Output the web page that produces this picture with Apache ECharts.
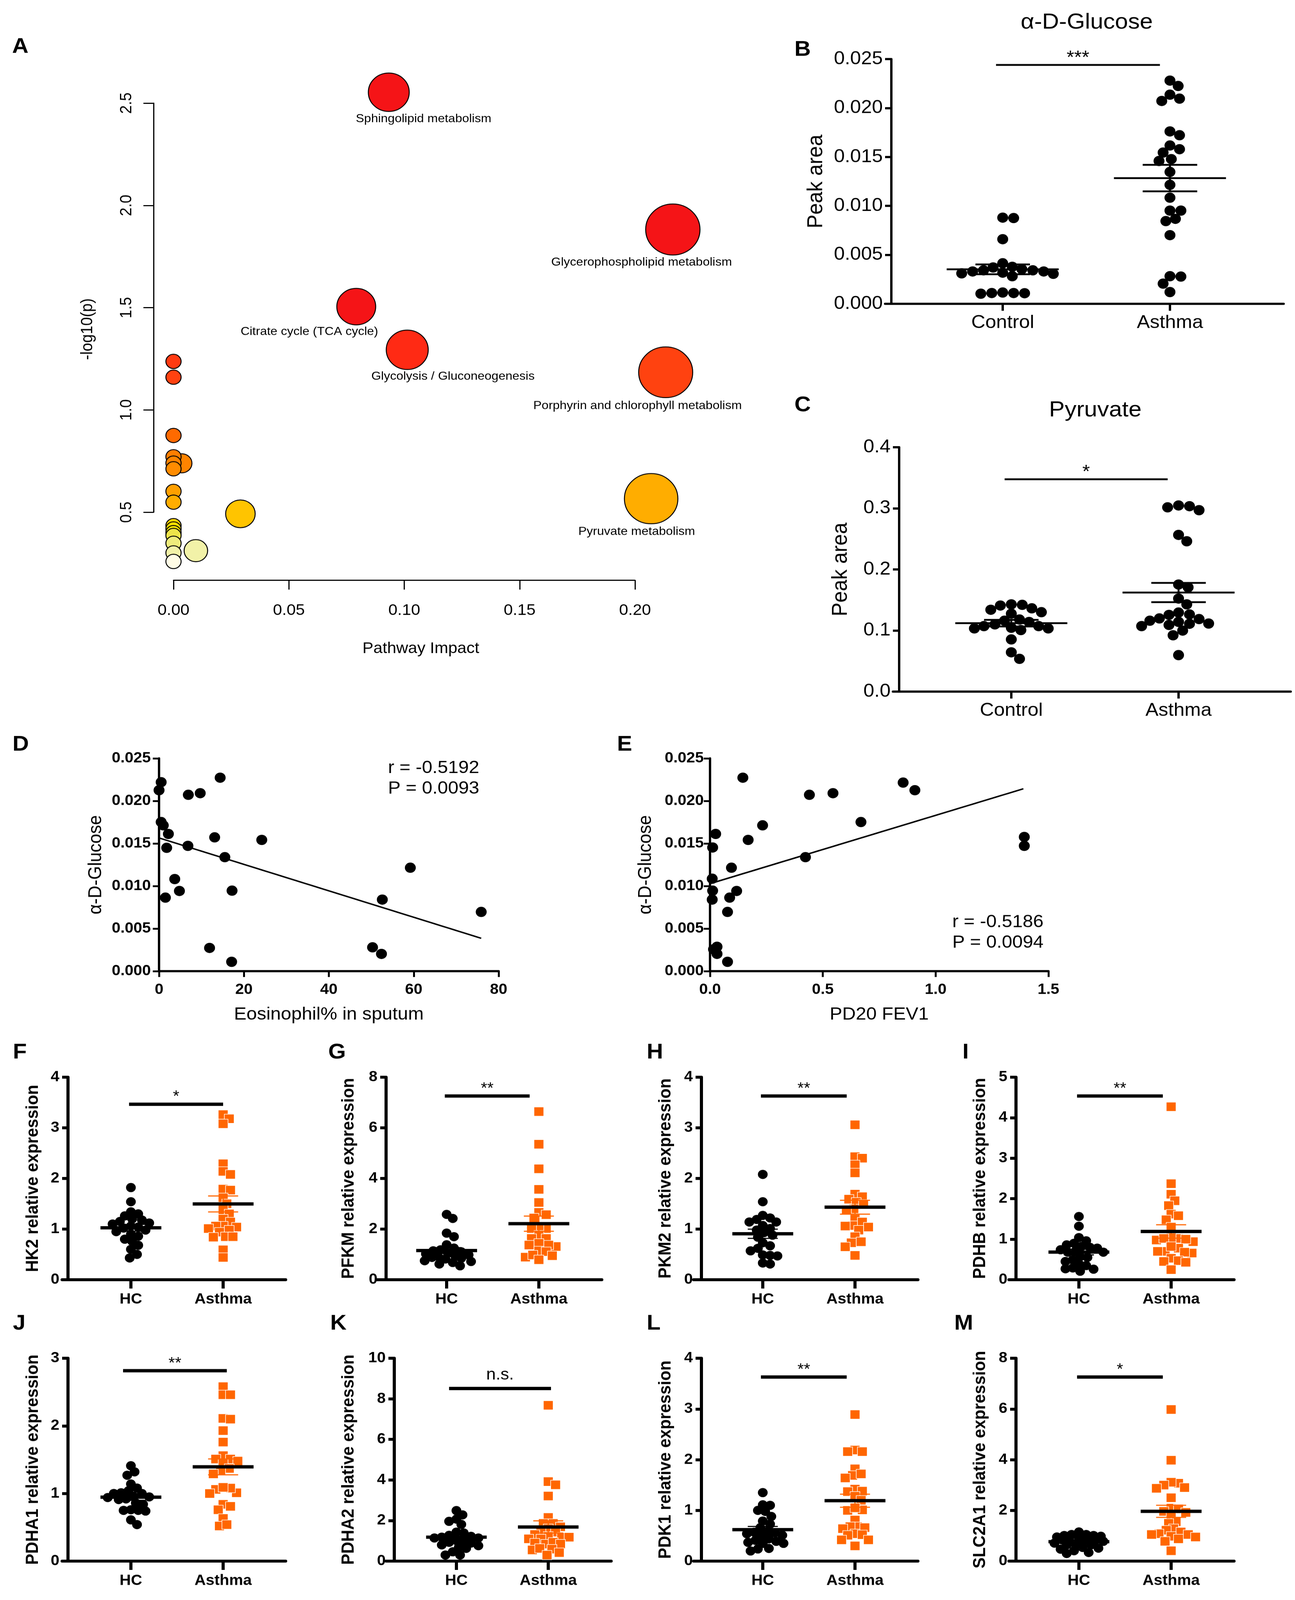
<!DOCTYPE html>
<html>
<head>
<meta charset="utf-8">
<script src="https://cdn.jsdelivr.net/npm/echarts@6/dist/echarts.min.js"></script>
<style>
  html, body { margin: 0; padding: 0; background: #fff; overflow: hidden; }
  #main { width: 3314px; height: 4361px; transform-origin: 0 0; }
</style>
</head>
<body>
<div id="main"></div>
<script>
// ---------- data ----------
// A: pathway analysis (impact vs -log10 p)
const pathwayNames = ['Sphingolipid metabolism', 'Glycerophospholipid metabolism', 'Citrate cycle (TCA cycle)',
  'Glycolysis / Gluconeogenesis', 'Porphyrin and chlorophyll metabolism', 'Pyruvate metabolism',
  '', '', '', '', '', '', '', '', '', '', '', '', '', '', '', '', '', ''];
const pathwayImpact = [0.0933, 0.2164, 0.0792, 0.1013, 0.2133, 0.2070, 0.0290, 0.0097, 0.0036,
  0, 0, 0, 0, 0, 0, 0, 0, 0, 0, 0, 0, 0, 0, 0];
const pathwayLogP = [2.553, 1.882, 1.505, 1.294, 1.184, 0.566, 0.492, 0.312, 0.739,
  1.237, 1.160, 0.875, 0.771, 0.740, 0.712, 0.602, 0.549, 0.434, 0.418, 0.400, 0.386, 0.348, 0.301, 0.259];
const pathwayXTicks = [0, 0.2, 0.05];
const pathwayYTicks = [0.5, 2.5, 0.5];

// B, C: metabolite peak areas
const groupNames = ['Control', 'Asthma'];
const glucoseControl = [0.0088, 0.00876, 0.0066, 0.00414, 0.00378, 0.00342, 0.0033, 0.00318, 0.00306, 0.00282,
  0.00311, 0.0033, 0.00342, 0.00354, 0.00371, 0.00115, 0.0011, 0.00103, 0.00108, 0.0011];
const glucoseAsthma = [0.0228, 0.02225, 0.02136, 0.02072, 0.02096, 0.01761, 0.01722, 0.01617, 0.01545, 0.01579,
  0.01459, 0.01478, 0.01347, 0.01215, 0.01084, 0.00952, 0.00952, 0.00868, 0.00845, 0.00701, 0.00282, 0.00278,
  0.00206, 0.0012];
const pyruvateControl = [0.1428, 0.1409, 0.134, 0.1363, 0.142, 0.1275, 0.130, 0.116, 0.114, 0.118, 0.1072, 0.1072,
  0.1034, 0.1007, 0.110, 0.1034, 0.1045, 0.0854, 0.0643, 0.0536];
const pyruvateAsthma = [0.3035, 0.297, 0.3016, 0.3047, 0.2565, 0.2461, 0.1707, 0.1753, 0.1523, 0.1428, 0.1294,
  0.1256, 0.1263, 0.116, 0.1187, 0.1198, 0.1141, 0.1114, 0.1091, 0.1072, 0.111, 0.0999, 0.0922, 0.0597];

// D, E: correlations
const eosinophilPct = [0.5, 0, 14.4, 6.9, 9.7, 0.5, 1.0, 2.2, 13.1, 24.2, 6.8, 1.8, 15.5, 59.2, 3.7, 4.8, 17.2,
  1.5, 52.6, 75.9, 11.9, 50.3, 52.4, 17.1];
const eosGlucose = [0.0222, 0.02126, 0.02273, 0.02072, 0.02091, 0.01752, 0.01713, 0.01612, 0.01572, 0.01542,
  0.01472, 0.01449, 0.01339, 0.01215, 0.01082, 0.00942, 0.00946, 0.00864, 0.00841, 0.00696, 0.00273, 0.0028,
  0.00203, 0.0011];
const eosFit = [[0, 0.01565], [75.9, 0.00386]];
const pd20Fev1 = [0.1455, 0.856, 0.908, 0.4405, 0.545, 0.669, 0.233, 0.025, 0.169, 1.393, 1.393, 0.0116, 0.423,
  0.095, 0.0097, 0.0116, 0.118, 0.087, 0.0097, 0.0776, 0.031, 0.0155, 0.031, 0.0776];
const pdGlucose = [0.02273, 0.02215, 0.02126, 0.02072, 0.02091, 0.01752, 0.01713, 0.01612, 0.01542, 0.01577,
  0.01472, 0.01453, 0.01339, 0.01215, 0.01086, 0.00946, 0.00942, 0.00864, 0.00841, 0.00696, 0.00287, 0.00257,
  0.00203, 0.0011];
const pdFit = [[0, 0.01028], [1.389, 0.02143]];

// F-M: relative expression, HC vs Asthma
const exprGroups = ['HC', 'Asthma'];
const hk2HC = [1.82, 1.54, 1.34, 1.30, 1.26, 1.20, 1.18, 1.15, 1.12, 1.10, 1.06, 1.04, 1.02, 0.98, 0.95, 0.90,
  0.86, 0.80, 0.76, 0.68, 0.60, 0.50, 0.43];
const hk2Asthma = [3.26, 3.18, 3.08, 2.29, 2.14, 2.08, 1.79, 1.77, 1.62, 1.50, 1.38, 1.30, 1.20, 1.14, 1.06, 1.06,
  1.04, 1.01, 0.98, 0.94, 0.85, 0.85, 0.84, 0.59, 0.44];
const pfkmHC = [2.58, 2.42, 1.84, 1.70, 1.38, 1.25, 1.18, 1.14, 1.10, 1.05, 1.02, 0.98, 0.95, 0.92, 0.88, 0.85,
  0.82, 0.75, 0.72, 0.68, 0.62, 0.55];
const pfkmAsthma = [6.64, 5.35, 4.38, 3.57, 3.05, 2.66, 2.57, 2.44, 2.02, 2.08, 2.02, 1.76, 1.63, 1.63, 1.31, 1.37,
  1.44, 1.37, 1.14, 1.11, 0.89, 0.95, 0.98, 0.79];
const pkm2HC = [2.08, 1.54, 1.27, 1.22, 1.19, 1.14, 1.14, 1.07, 1.01, 0.98, 0.93, 0.88, 0.84, 0.73, 0.67, 0.62,
  0.57, 0.49, 0.48, 0.47, 0.33, 0.31];
const pkm2Asthma = [3.06, 2.43, 2.40, 2.27, 2.11, 1.69, 1.64, 1.59, 1.53, 1.49, 1.40, 1.38, 1.20, 1.14, 1.07, 1.06,
  1.04, 0.98, 0.85, 0.75, 0.73, 0.65, 0.48];
const pdhbHC = [1.56, 1.32, 1.04, 0.96, 0.90, 0.86, 0.82, 0.80, 0.78, 0.74, 0.70, 0.68, 0.68, 0.57, 0.55, 0.49,
  0.45, 0.39, 0.35, 0.29, 0.27, 0.26, 0.21];
const pdhbAsthma = [4.27, 2.37, 2.11, 1.95, 1.83, 1.62, 1.58, 1.48, 1.30, 0.94, 1.02, 1.04, 0.98, 1.02, 1.00, 0.70,
  0.78, 0.66, 0.82, 0.68, 0.70, 0.53, 0.47, 0.43, 0.45, 0.25];
const pdha1HC = [1.41, 1.32, 1.27, 1.14, 1.08, 1.04, 1.01, 1.00, 1.00, 0.96, 0.95, 0.94, 0.92, 0.91, 0.86, 0.84,
  0.76, 0.75, 0.75, 0.74, 0.61, 0.54];
const pdha1Asthma = [2.58, 2.46, 2.46, 2.11, 2.10, 1.93, 1.76, 1.56, 1.51, 1.51, 1.48, 1.44, 1.37, 1.34, 1.29, 1.01,
  1.06, 1.08, 1.09, 1.00, 0.84, 0.81, 0.76, 0.63, 0.52, 0.54];
const pdha2HC = [2.49, 2.28, 2.07, 1.96, 1.81, 1.43, 1.39, 1.14, 1.27, 1.22, 1.18, 1.14, 0.97, 1.01, 0.93, 0.89,
  0.68, 0.76, 0.80, 0.63, 0.46, 0.30, 0.30];
const pdha2Asthma = [7.68, 3.92, 3.76, 3.21, 2.15, 1.86, 1.86, 1.69, 1.60, 1.52, 1.43, 1.31, 1.18, 1.22, 1.10, 1.18,
  1.10, 0.89, 0.84, 0.93, 0.84, 0.59, 0.55, 0.63, 0.42, 0.30];
const pdk1HC = [1.35, 1.11, 1.10, 1.00, 0.98, 0.88, 0.79, 0.73, 0.66, 0.59, 0.57, 0.56, 0.51, 0.54, 0.51, 0.44,
  0.41, 0.39, 0.37, 0.35, 0.35, 0.24, 0.25, 0.20];
const pdk1Asthma = [2.89, 2.19, 2.16, 2.16, 1.82, 1.69, 1.72, 1.64, 1.42, 1.37, 1.38, 1.28, 1.20, 1.01, 1.00, 1.05,
  0.81, 0.68, 0.68, 0.66, 0.64, 0.54, 0.52, 0.51, 0.42, 0.42, 0.30];
const slc2a1HC = [1.05, 1.01, 1.15, 1.05, 1.01, 0.88, 0.84, 0.84, 0.91, 0.81, 0.68, 0.64, 0.71, 0.64, 0.51, 0.47,
  0.54, 0.41, 0.34, 0.30, 0.95, 0.98, 0.78, 0.88];
const slc2a1Asthma = [5.98, 3.98, 3.07, 3.11, 3.00, 2.87, 2.90, 2.50, 2.09, 2.06, 1.96, 1.92, 1.76, 1.55, 1.49,
  1.28, 1.22, 1.15, 1.05, 1.08, 1.05, 0.95, 0.98, 0.78, 0.88, 0.41];

// ---------- helpers ----------
const fontFamily = '"Liberation Sans", Arial, Helvetica, sans-serif';
const ORANGE = '#FF6600';

function mean(a) { return a.reduce((s, v) => s + v, 0) / a.length; }
function sem(a) {
  const m = mean(a);
  const v = a.reduce((s, x) => s + (x - m) * (x - m), 0) / (a.length - 1);
  return Math.sqrt(v / a.length);
}

// greedy beeswarm: horizontal offsets (px), kept inside +/-maxHalf;
// when nothing fits there, take the spot with the least overlap
function swarmOffsets(values, diam, pxPerUnit, overlap, maxHalf) {
  const order = values.map((v, i) => i).sort((a, b) => values[b] - values[a]);
  const placed = [];
  const out = new Array(values.length);
  const minD = diam * overlap, step = diam / 8;
  order.forEach(i => {
    const y = values[i] * pxPerUnit;
    let x = null, bestX = 0, bestD = -1;
    for (let k = 0; k < 400; k++) {
      const c = (k % 2 === 1 ? 1 : -1) * Math.ceil(k / 2) * step;
      if (Math.abs(c) > maxHalf) break;
      let dMin = Infinity;
      placed.forEach(p => { dMin = Math.min(dMin, Math.hypot(p.x - c, p.y - y)); });
      if (dMin >= minD) { x = c; break; }
      if (dMin > bestD + 0.5) { bestD = dMin; bestX = c; }
    }
    if (x === null) x = bestX;
    placed.push({ x, y });
    out[i] = x;
  });
  return out;
}

const grids = [], xAxes = [], yAxes = [], series = [], graphics = [];

function addText(text, x, y, o) {
  o = o || {};
  graphics.push({
    type: 'text', x, y, rotation: o.rot || 0, z: 20,
    style: {
      text, fill: '#000', fontFamily, fontSize: o.size || 40, fontWeight: o.weight || 'normal',
      align: o.align || 'center', verticalAlign: o.valign || 'middle',
      textAlign: o.align || 'center', textVerticalAlign: o.valign || 'middle'
    }
  });
}

function addGrid(g) {
  grids.push(Object.assign({ outerBoundsMode: 'none', containLabel: false }, g));
  return grids.length - 1;
}

// ---------- panel A ----------
const pathwayLabelOffset = {
  'Sphingolipid metabolism': [89, 73],
  'Glycerophospholipid metabolism': [-80, 90],
  'Citrate cycle (TCA cycle)': [-120, 68],
  'Glycolysis / Gluconeogenesis': [117, 73],
  'Porphyrin and chlorophyll metabolism': [-72, 92],
  'Pyruvate metabolism': [-37, 90]
};
(function panelA() {
  const gi = addGrid({ left: 444, top: 281, width: 1181, height: 1115 });
  const axisCommon = {
    gridIndex: gi, type: 'value', splitLine: { show: false },
    axisLine: { onZero: false, lineStyle: { color: '#000', width: 3 } },
    axisTick: { length: 26, lineStyle: { color: '#000', width: 3 } }
  };
  xAxes.push(Object.assign({}, axisCommon, {
    min: pathwayXTicks[0], max: pathwayXTicks[1], interval: pathwayXTicks[2], offset: 185,
    axisLabel: { margin: 62, fontSize: 42, color: '#000', fontFamily, formatter: v => v.toFixed(2) }
  }));
  yAxes.push(Object.assign({}, axisCommon, {
    min: pathwayYTicks[0], max: pathwayYTicks[1], interval: pathwayYTicks[2], offset: 51,
    axisLabel: { margin: 48, fontSize: 42, color: '#000', fontFamily, rotate: 90, formatter: v => v.toFixed(1) }
  }));
  series.push({
    type: 'scatter', xAxisIndex: gi, yAxisIndex: gi, clip: false, z: 3,
    symbolSize: v => 39 + 215 * Math.sqrt(v[0]),
    itemStyle: { borderColor: '#000', borderWidth: 2.5, opacity: 1 },
    label: { show: true, position: 'inside', formatter: '{b}', fontSize: 32, color: '#000', fontFamily },
    emphasis: { disabled: true },
    data: pathwayImpact.map((x, i) => {
      const name = pathwayNames[i];
      return {
        name, value: [x, pathwayLogP[i]],
        label: name ? { show: true, offset: pathwayLabelOffset[name] } : { show: false }
      };
    })
  });
  addText('Pathway Impact', 1077, 1768, { size: 42 });
  addText('-log10(p)', 224, 897, { size: 42, rot: Math.PI / 2 });
})();

// ---------- dot plots with mean +/- SEM ----------
const prismStyle = {
  axisW: 6, xTick: 19, yTick: 16, xLabelMargin: 27, yLabelMargin: 22, catSize: 50, tickSize: 50,
  weight: 'normal', nameSize: 56, nameWeight: 'normal', markerSize: 28, squares: false,
  overlap: 0.9, maxHalf: 130,
  meanW: 5, semW: 5, meanHalf: 0.335, semHalf: 0.163, sigW: 5, sigSize: 50, sigDy: 18, semColors: ['#000', '#000']
};
const exprStyle = {
  axisW: 8, xTick: 24, yTick: 15, xLabelMargin: 34, yLabelMargin: 22, catSize: 40, tickSize: 40,
  weight: 'bold', nameSize: 45, nameWeight: 'bold', markerSize: 25, squares: true,
  overlap: 0.75, maxHalf: 64,
  meanW: 9, semW: 3, meanHalf: 0.33, semHalf: 0.163, sigW: 9, sigSize: 42, sigDy: 20, semColors: ['#000', ORANGE]
};

function addDotPanel(p) {
  const L = p.layout, st = p.style;
  const catPx = L.cat1 - L.cat0;
  const gi = addGrid({ left: L.left, top: L.top, width: L.right - L.left, height: L.bottom - L.top });
  xAxes.push({
    gridIndex: gi, type: 'value', min: (L.left - L.cat0) / catPx, max: (L.right - L.cat0) / catPx,
    splitLine: { show: false },
    axisLine: { onZero: false, lineStyle: { color: '#000', width: st.axisW } },
    axisTick: { customValues: [0, 1], length: st.xTick, lineStyle: { color: '#000', width: st.axisW } },
    axisLabel: {
      customValues: [0, 1], formatter: v => p.cats[Math.round(v)], margin: st.xLabelMargin,
      fontSize: st.catSize, fontWeight: st.weight, color: '#000', fontFamily
    }
  });
  yAxes.push({
    gridIndex: gi, type: 'value', min: 0, max: p.yMax, interval: p.yStep, offset: L.left - L.axisX,
    splitLine: { show: false },
    axisLine: { onZero: false, lineStyle: { color: '#000', width: st.axisW } },
    axisTick: { length: st.yTick, lineStyle: { color: '#000', width: st.axisW } },
    axisLabel: {
      margin: st.yLabelMargin, fontSize: st.tickSize, fontWeight: st.weight, color: '#000', fontFamily,
      formatter: v => v.toFixed(p.decimals)
    },
    name: p.yName, nameLocation: 'middle', nameGap: L.nameGap, nameMoveOverlap: false,
    nameTextStyle: { fontSize: st.nameSize, fontWeight: st.nameWeight, color: '#000', fontFamily }
  });
  const pxPerUnit = (L.bottom - L.top) / p.yMax;
  p.groups.forEach((vals, gIdx) => {
    const off = swarmOffsets(vals, st.markerSize, pxPerUnit, st.overlap, st.maxHalf);
    const isSq = st.squares && gIdx === 1;
    series.push({
      type: 'scatter', xAxisIndex: gi, yAxisIndex: gi, clip: false, z: 3,
      symbol: isSq ? 'rect' : 'circle', symbolSize: st.markerSize,
      itemStyle: {
        color: isSq ? ORANGE : '#000', opacity: 1,
        borderColor: isSq ? '#fff' : '#000', borderWidth: isSq ? 1.5 : 0
      },
      emphasis: { disabled: true },
      data: vals.map((v, i) => [gIdx + off[i] / catPx, v])
    });
  });
  // mean and SEM
  series.push({
    type: 'custom', xAxisIndex: gi, yAxisIndex: gi, z: 5, clip: false, silent: true,
    encode: { x: 0, y: 1 },
    data: p.groups.map((vals, gIdx) => [gIdx, mean(vals), sem(vals)]),
    renderItem: (params, api) => {
      const x = api.value(0), m = api.value(1), s = api.value(2);
      const c = api.coord.bind(api);
      const semColor = st.semColors[params.dataIndex];
      const ln = (a, b, w, col) => ({
        type: 'line', shape: { x1: a[0], y1: a[1], x2: b[0], y2: b[1] },
        style: { stroke: col, lineWidth: w }
      });
      return {
        type: 'group', children: [
          ln(c([x, m - s]), c([x, m + s]), st.semW, semColor),
          ln(c([x - st.semHalf, m + s]), c([x + st.semHalf, m + s]), st.semW, semColor),
          ln(c([x - st.semHalf, m - s]), c([x + st.semHalf, m - s]), st.semW, semColor),
          ln(c([x - st.meanHalf, m]), c([x + st.meanHalf, m]), st.meanW, '#000')
        ]
      };
    }
  });
  // significance bar
  series.push({
    type: 'custom', xAxisIndex: gi, yAxisIndex: gi, z: 6, clip: false, silent: true,
    encode: { x: [0, 1], y: 2 },
    data: [p.sig.slice(0, 3)],
    renderItem: (params, api) => {
      const a = api.coord([api.value(0), api.value(2)]);
      const b = api.coord([api.value(1), api.value(2)]);
      const ns = p.sig[3] === 'n.s.';
      return {
        type: 'group', children: [
          { type: 'line', shape: { x1: a[0], y1: a[1], x2: b[0], y2: b[1] },
            style: { stroke: '#000', lineWidth: st.sigW } },
          { type: 'text', x: (a[0] + b[0]) / 2, y: a[1] - (ns ? 37 : st.sigDy),
            style: { text: p.sig[3], fontSize: ns ? 44 : st.sigSize, fontFamily, fill: '#000',
              align: 'center', verticalAlign: 'middle', textAlign: 'center', textVerticalAlign: 'middle' } }
        ]
      };
    }
  });
}

addDotPanel({
  groups: [glucoseControl, glucoseAsthma], cats: groupNames, yMax: 0.025, yStep: 0.005, decimals: 3,
  yName: 'Peak area', sig: [-0.04, 0.94, 0.0244, '***'], style: prismStyle,
  layout: { axisX: 2281, left: 2265, right: 3285, top: 161, bottom: 828, cat0: 2566, cat1: 2994, nameGap: 164 }
});
addDotPanel({
  groups: [pyruvateControl, pyruvateAsthma], cats: groupNames, yMax: 0.4, yStep: 0.1, decimals: 1,
  yName: 'Peak area', sig: [-0.04, 0.935, 0.3476, '*'], style: prismStyle,
  layout: { axisX: 2301, left: 2285, right: 3303, top: 1219, bottom: 1885, cat0: 2588, cat1: 3016, nameGap: 121 }
});

const exprCols = [
  { axisX: 174, left: 159, right: 731, cat0: 335, cat1: 571, nameGap: 67 },
  { axisX: 988, left: 964, right: 1540, cat0: 1143, cat1: 1379, nameGap: 73 },
  { axisX: 1795, left: 1775, right: 2349, cat0: 1952, cat1: 2188, nameGap: 69 },
  { axisX: 2600, left: 2582, right: 3158, cat0: 2761, cat1: 2997, nameGap: 69 }
];
const exprRows = [{ top: 2936, bottom: 3488 }, { top: 3702, bottom: 4255 }];
const exprPanels = [
  { name: 'HK2', hc: hk2HC, as: hk2Asthma, yMax: 4, yStep: 1, sig: [-0.02, 1.0, 3.466, '*'] },
  { name: 'PFKM', hc: pfkmHC, as: pfkmAsthma, yMax: 8, yStep: 2, sig: [-0.02, 0.9, 7.256, '**'] },
  { name: 'PKM2', hc: pkm2HC, as: pkm2Asthma, yMax: 4, yStep: 1, sig: [-0.02, 0.91, 3.628, '**'] },
  { name: 'PDHB', hc: pdhbHC, as: pdhbAsthma, yMax: 5, yStep: 1, sig: [-0.02, 0.91, 4.535, '**'] },
  { name: 'PDHA1', hc: pdha1HC, as: pdha1Asthma, yMax: 3, yStep: 1, sig: [-0.085, 1.04, 2.815, '**'] },
  { name: 'PDHA2', hc: pdha2HC, as: pdha2Asthma, yMax: 10, yStep: 2, sig: [-0.08, 1.03, 8.506, 'n.s.'] },
  { name: 'PDK1', hc: pdk1HC, as: pdk1Asthma, yMax: 4, yStep: 1, sig: [-0.02, 0.91, 3.629, '**'] },
  { name: 'SLC2A1', hc: slc2a1HC, as: slc2a1Asthma, yMax: 8, yStep: 2, sig: [-0.02, 0.91, 7.258, '*'] }
];
exprPanels.forEach((e, i) => {
  let col = exprCols[i % 4];
  if (e.name === 'PDHA2') col = { axisX: 1009, left: 988, right: 1564, cat0: 1168, cat1: 1403, nameGap: 94 };
  addDotPanel({
    groups: [e.hc, e.as], cats: exprGroups, yMax: e.yMax, yStep: e.yStep, decimals: 0,
    yName: e.name + ' relative expression', sig: e.sig, style: exprStyle,
    layout: Object.assign({}, col, exprRows[Math.floor(i / 4)])
  });
});

// ---------- correlation panels D, E ----------
function addCorrPanel(p) {
  const L = p.layout;
  const gi = addGrid({ left: L.left, top: L.top, width: L.right - L.left, height: L.bottom - L.top });
  const common = {
    gridIndex: gi, type: 'value', splitLine: { show: false },
    axisLine: { onZero: false, lineStyle: { color: '#000', width: 6 } },
    axisTick: { length: 16, lineStyle: { color: '#000', width: 5 } },
    nameLocation: 'middle', nameMoveOverlap: false,
    nameTextStyle: { fontSize: 48, color: '#000', fontFamily }
  };
  xAxes.push(Object.assign({}, common, {
    min: p.xRange[0], max: p.xRange[1], interval: p.xRange[2], name: p.xName, nameGap: 95,
    axisLabel: { margin: 31, fontSize: 40, fontWeight: 'bold', color: '#000', fontFamily,
      formatter: v => v.toFixed(p.xDecimals) }
  }));
  yAxes.push(Object.assign({}, common, {
    min: 0, max: 0.025, interval: 0.005, name: 'α-D-Glucose', nameGap: L.nameGap,
    axisLabel: { margin: L.yLabelMargin, fontSize: 40, fontWeight: 'bold', color: '#000', fontFamily,
      formatter: v => v.toFixed(3) }
  }));
  series.push({
    type: 'line', xAxisIndex: gi, yAxisIndex: gi, data: p.fit, showSymbol: false, z: 2,
    lineStyle: { color: '#000', width: 4 }, silent: true
  });
  series.push({
    type: 'scatter', xAxisIndex: gi, yAxisIndex: gi, clip: false, z: 3, symbolSize: 28,
    itemStyle: { color: '#000', opacity: 1 }, emphasis: { disabled: true },
    data: p.xs.map((x, i) => [x, p.ys[i]])
  });
  addText(p.stats[0], L.statX, L.statY, { size: 48, align: 'left' });
  addText(p.stats[1], L.statX, L.statY + 56, { size: 48, align: 'left' });
}
addCorrPanel({
  xs: eosinophilPct, ys: eosGlucose, fit: eosFit, xRange: [0, 80, 20], xDecimals: 0,
  xName: 'Eosinophil% in sputum', stats: ['r = -0.5192', 'P = 0.0093'],
  layout: { left: 407, right: 1276, top: 2067, bottom: 2647, nameGap: 137, yLabelMargin: 21, statX: 993, statY: 2094 }
});
addCorrPanel({
  xs: pd20Fev1, ys: pdGlucose, fit: pdFit, xRange: [0, 1.5, 0.5], xDecimals: 1,
  xName: 'PD20 FEV1', stats: ['r = -0.5186', 'P = 0.0094'],
  layout: { left: 1817, right: 2683, top: 2067, bottom: 2647, nameGap: 140, yLabelMargin: 16, statX: 2437, statY: 2514 }
});

// ---------- titles and panel letters ----------
addText('α-D-Glucose', 2781, 61, { size: 60 });
addText('Pyruvate', 2803, 1118, { size: 60 });
const panelLetters = [
  ['A', 31, 128], ['B', 2033, 136], ['C', 2033, 1105], ['D', 32, 2030], ['E', 1579, 2030],
  ['F', 33, 2869], ['G', 840, 2869], ['H', 1655, 2869], ['I', 2463, 2869],
  ['J', 33, 3608], ['K', 845, 3608], ['L', 1655, 3608], ['M', 2442, 3608]
];
panelLetters.forEach(l => addText(l[0], l[1], l[2], { size: 58, weight: 'bold', align: 'left' }));

// ---------- chart ----------
// the window may be shorter than the figure: squeeze the whole figure to fit it
const PAGE_W = 3314, PAGE_H = 4361;
const mainEl = document.getElementById('main');
const fitX = Math.min(1, (window.innerWidth || PAGE_W) / PAGE_W);
const fitY = Math.min(1, (window.innerHeight || PAGE_H) / PAGE_H);
mainEl.style.transform = 'scale(' + fitX + ',' + fitY + ')';

const chart = echarts.init(mainEl, null, { renderer: 'canvas', width: PAGE_W, height: PAGE_H });
chart.setOption({
  animation: false,
  backgroundColor: '#fff',
  textStyle: { fontFamily },
  grid: grids,
  xAxis: xAxes,
  yAxis: yAxes,
  visualMap: [{
    type: 'piecewise', show: false, seriesIndex: 0, dimension: 1,
    pieces: [
      { gte: 1.45, color: '#F51417' },
      { gte: 1.25, lt: 1.45, color: '#FF2A14' },
      { gte: 1.2, lt: 1.25, color: '#FF3A12' },
      { gte: 1.1, lt: 1.2, color: '#FF4210' },
      { gte: 0.85, lt: 1.1, color: '#FF6A00' },
      { gte: 0.76, lt: 0.85, color: '#FF7E00' },
      { gte: 0.73, lt: 0.76, color: '#FF8400' },
      { gte: 0.65, lt: 0.73, color: '#FF8C00' },
      { gte: 0.58, lt: 0.65, color: '#FFA000' },
      { gte: 0.53, lt: 0.58, color: '#FFAD00' },
      { gte: 0.46, lt: 0.53, color: '#FFC400' },
      { gte: 0.425, lt: 0.46, color: '#FFD600' },
      { gte: 0.405, lt: 0.425, color: '#FFE000' },
      { gte: 0.39, lt: 0.405, color: '#F5E400' },
      { gte: 0.37, lt: 0.39, color: '#EDE44A' },
      { gte: 0.33, lt: 0.37, color: '#EEEC7C' },
      { gte: 0.28, lt: 0.33, color: '#F2F2A8' },
      { lt: 0.28, color: '#FFFCE6' }
    ]
  }],
  series,
  graphic: graphics
});
</script>
</body>
</html>
